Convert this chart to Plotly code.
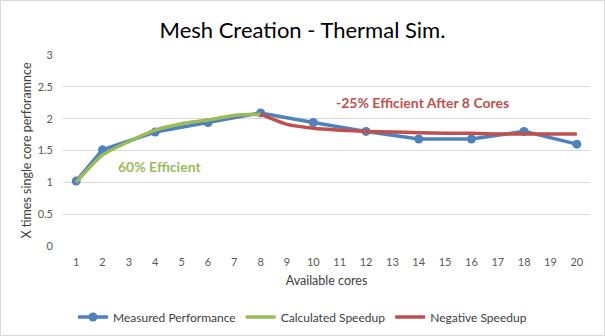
import plotly.graph_objects as go

cores = list(range(1, 21))
measured = [1.02, 1.51, None, 1.79, None, 1.94, None, 2.09, None, 1.94,
            None, 1.80, None, 1.68, None, 1.68, None, 1.80, None, 1.60]
calculated = [1.00, 1.43, 1.64, 1.82, 1.92, 1.98, 2.05, 2.07] + [None] * 12
negative = [None] * 7 + [2.07, 1.91, 1.85, 1.82, 1.80, 1.79, 1.78, 1.77, 1.77, 1.76, 1.76, 1.76, 1.76]

BLUE, GREEN, RED = "#4F81BD", "#9BBB59", "#C0504D"
FONT = "Lato"

fig = go.Figure()
fig.add_trace(go.Scatter(x=cores, y=measured, name="Measured Performance", mode="lines+markers",
                         connectgaps=True, line=dict(color=BLUE, width=3.5),
                         marker=dict(size=9, color=BLUE)))
fig.add_trace(go.Scatter(x=cores, y=calculated, name="Calculated Speedup", mode="lines",
                         line=dict(color=GREEN, width=3.5, shape="spline", smoothing=0.6)))
fig.add_trace(go.Scatter(x=cores, y=negative, name="Negative Speedup", mode="lines",
                         line=dict(color=RED, width=3.5, shape="spline", smoothing=0.6)))

L, R, T, B = 63, 15, 55, 90
W, H = 605, 336
pw, ph = W - L - R, H - T - B

def px(x):
    return (x - L) / pw

def py(y):
    return (H - B - y) / ph

fig.update_layout(
    width=W, height=H,
    margin=dict(l=L, r=R, t=T, b=B, autoexpand=False),
    paper_bgcolor="white", plot_bgcolor="white",
    font=dict(family=FONT, color="#595959", size=11),
    title=dict(text="Mesh Creation - Thermal Sim.", x=0.5, xref="container", xanchor="center",
               y=1 - 30 / H, yref="container", yanchor="middle",
               font=dict(family=FONT, size=22, color="#000000")),
    xaxis=dict(range=[0.5, 20.5], tickmode="linear", tick0=1, dtick=1, showgrid=False,
               zeroline=False, showline=False, ticks="", automargin=False, ticklabelstandoff=8,
               title=dict(text="Available cores", standoff=9, font=dict(size=12.5, color="#404040"))),
    yaxis=dict(range=[0, 3], dtick=0.5, showgrid=True, gridcolor="#D9D9D9", gridwidth=1,
               zeroline=False, showline=False, ticks="", ticklabelstandoff=9, automargin=False,
               title=dict(text="X times single core perforamnce", standoff=3,
                          font=dict(size=12.5, color="#404040"))),
    legend=dict(orientation="h", x=0.5, xref="container", xanchor="center",
                y=(H - 317) / H, yref="container", yanchor="middle",
                font=dict(size=12, color="#404040"), itemwidth=30, traceorder="normal"),
    showlegend=True,
)

fig.add_annotation(x=px(159), y=py(166), xref="paper", yref="paper", text="<b>60% Efficient</b>",
                   xanchor="center", yanchor="middle",
                   showarrow=False, font=dict(family=FONT, size=14, color=GREEN))
fig.add_annotation(x=px(422), y=py(102), xref="paper", yref="paper",
                   text="<b>-25% Efficient After 8 Cores</b>", xanchor="center", yanchor="middle",
                   showarrow=False, font=dict(family=FONT, size=14, color=RED))

fig.add_shape(type="rect", xref="paper", yref="paper",
              x0=px(0.5), x1=px(W - 0.5), y0=py(H - 0.5), y1=py(0.5),
              line=dict(color="#D9D9D9", width=1), layer="below")

fig.write_html("out.html")
